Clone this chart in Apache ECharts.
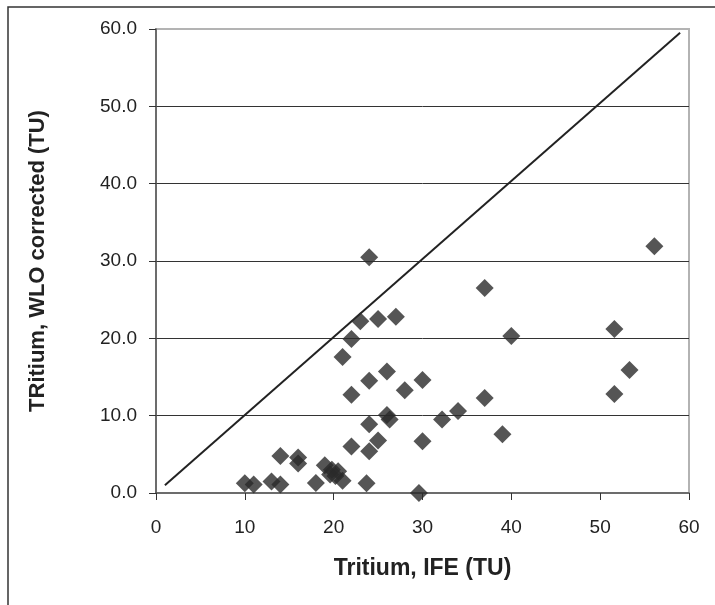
<!DOCTYPE html>
<html>
<head>
<meta charset="utf-8">
<script src="https://cdn.jsdelivr.net/npm/echarts@6/dist/echarts.min.js"></script>
<style>
  html, body { margin: 0; padding: 0; background: #fff; }
  #main { width: 715px; height: 605px; }
</style>
</head>
<body>
<div id="main"></div>
<script>
var chartDom = document.getElementById('main');
var myChart = echarts.init(chartDom);
var option;

// Tritium IFE (x) vs WLO corrected (y)
var ifeValues = [10, 11, 13, 14, 14, 16, 16, 18, 19, 19.8, 19.6, 20.5, 21, 20.2, 23.7,
  22, 24, 25, 24, 26, 26.3, 22, 24, 26, 28, 30, 30, 29.6, 24, 23, 25, 27, 22, 21,
  37, 40, 51.6, 53.3, 51.6, 37, 34, 32.2, 39, 56.1];
var wloValues = [1.25, 1.1, 1.5, 1.1, 4.8, 4.6, 3.8, 1.3, 3.6, 3.0, 2.4, 2.8, 1.6, 2.2, 1.25,
  6.0, 5.4, 6.8, 8.9, 10.1, 9.5, 12.7, 14.5, 15.7, 13.3, 14.6, 6.7, 0, 30.5, 22.2, 22.5, 22.8, 19.9, 17.6,
  26.5, 20.3, 21.2, 15.9, 12.8, 12.3, 10.6, 9.5, 7.6, 31.9];
// 1:1 line
var lineX = [1, 59];
var lineY = [1, 59.5];

var points = []
for (let i = 0; i < ifeValues.length; i++) {
  points.push([ifeValues[i], wloValues[i]])
}
var linePts = [[lineX[0], lineY[0]], [lineX[1], lineY[1]]]

var font = '"Liberation Sans", Arial, sans-serif'

option = {
  animation: false,
  graphic: [
    {
      type: 'rect',
      shape: { x: 8, y: 7, width: 800, height: 700 },
      style: { fill: 'none', stroke: '#333', lineWidth: 1.5 },
      z: -10
    }
  ],
  grid: {
    left: 156,
    top: 29,
    right: 26,
    bottom: 112,
    show: true,
    borderColor: '#b3b3b3',
    borderWidth: 2
  },
  xAxis: {
    type: 'value',
    min: 0,
    max: 60,
    interval: 10,
    name: 'Tritium, IFE (TU)',
    nameLocation: 'middle',
    nameGap: 64,
    nameTextStyle: { fontFamily: font, fontSize: 23, fontWeight: 'bold', color: '#222' },
    axisLine: { show: true, onZero: false, lineStyle: { color: '#555', width: 1.5 } },
    axisTick: { show: true, length: 7, lineStyle: { color: '#333' } },
    axisLabel: { fontFamily: font, fontSize: 19, color: '#222', margin: 25 },
    splitLine: { show: false }
  },
  yAxis: {
    type: 'value',
    min: 0,
    max: 60,
    interval: 10,
    name: 'TRitium, WLO corrected (TU)',
    nameLocation: 'middle',
    nameGap: 107,
    nameTextStyle: { fontFamily: font, fontSize: 22, fontWeight: 'bold', color: '#222' },
    axisLine: { show: true, onZero: false, lineStyle: { color: '#555', width: 1.5 } },
    axisTick: { show: true, length: 7, lineStyle: { color: '#333' } },
    axisLabel: {
      fontFamily: font, fontSize: 19, color: '#222', margin: 19,
      formatter: function (v) { return v.toFixed(1) }
    },
    splitLine: { show: true, showMinLine: false, showMaxLine: false, lineStyle: { color: '#333', width: 1 } }
  },
  series: [
    {
      type: 'line',
      data: linePts,
      symbol: 'none',
      lineStyle: { color: '#222', width: 2 },
      z: 2
    },
    {
      type: 'scatter',
      data: points,
      symbol: 'diamond',
      symbolSize: 18,
      itemStyle: { color: '#2b2b2b' },
      z: 3
    }
  ]
};

option && myChart.setOption(option);
</script>
</body>
</html>
